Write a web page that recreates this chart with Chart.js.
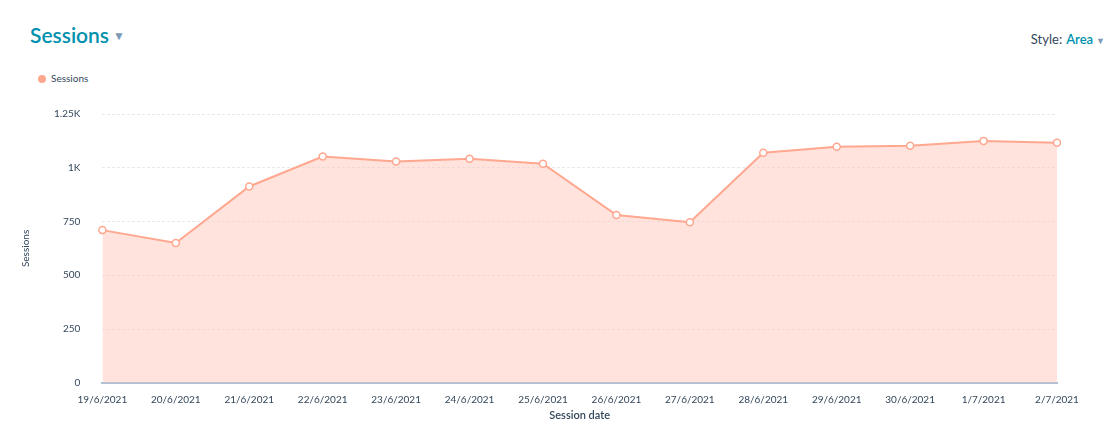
<!DOCTYPE html>
<html><head><meta charset="utf-8">
<script src="https://cdn.jsdelivr.net/npm/chart.js@4"></script>
<style>
body{margin:0;width:1115px;height:430px;overflow:hidden;background:#fff;font-family:"Lato","Open Sans",sans-serif;position:relative}
#title{position:absolute;left:30px;top:22px;font-size:21px;color:#0091ae;font-weight:600}
#title span{font-size:12px;color:#7c98b6;margin-left:4px;vertical-align:3px}
#style{position:absolute;right:10px;top:31px;font-size:13px;color:#33475b}
#style b{color:#0091ae;font-weight:600;margin-left:4px}
#style span{font-size:9px;color:#7c98b6;margin-left:3px}
#legend{position:absolute;left:38px;top:72px;font-size:10px;color:#33475b}
#legend i{display:inline-block;width:8px;height:8px;border-radius:50%;background:#ffa78f;margin-right:5px;vertical-align:-1px}
#wrap{position:absolute;left:0;top:86px;width:1115px;height:344px}
</style></head><body>
<div id="title">Sessions<span>▼</span></div>
<div id="style">Style:<b>Area</b><span>▼</span></div>
<div id="legend"><i></i>Sessions</div>
<div id="wrap"><canvas id="c"></canvas></div>
<script>
const categories=["19/6/2021","20/6/2021","21/6/2021","22/6/2021","23/6/2021","24/6/2021","25/6/2021","26/6/2021","27/6/2021","28/6/2021","29/6/2021","30/6/2021","1/7/2021","2/7/2021"];
const sessions=[710,650,913,1052,1029,1042,1019,780,747,1070,1098,1102,1125,1116];
const yTicks={0:"0",250:"250",500:"500",750:"750",1000:"1K",1250:"1.25K"};
new Chart(document.getElementById('c'),{
 type:'line',
 data:{labels:categories,datasets:[{label:'Sessions',data:sessions,borderColor:'#ffa78f',backgroundColor:'rgba(255,200,185,0.5)',fill:'origin',borderWidth:2,tension:0,pointRadius:3.5,pointBackgroundColor:'#fff',pointBorderColor:'#ffa78f',pointBorderWidth:1.5}]},
 options:{responsive:true,maintainAspectRatio:false,animation:false,
  layout:{padding:{top:3,right:58,left:16,bottom:4}},
  plugins:{legend:{display:false},tooltip:{enabled:false}},
  scales:{
   x:{grid:{display:false},border:{color:'#b0c1d4',width:2},
      ticks:{color:'#33475b',font:{size:10,family:'Lato'},maxRotation:0,autoSkip:false},
      title:{display:true,text:'Session date',color:'#33475b',font:{size:11,family:'Lato',weight:'600'},padding:{top:0}}},
   y:{min:0,max:1250,border:{display:false,dash:[3,2]},
      grid:{color:'#e5e8ef',drawTicks:false},
      ticks:{stepSize:250,color:'#33475b',font:{size:10,family:'Lato'},padding:22,callback:v=>yTicks[v]},
      title:{display:true,text:'Sessions',color:'#33475b',font:{size:10,family:'Lato'},padding:{bottom:0}}}
  }}
});
</script>
</body></html>
